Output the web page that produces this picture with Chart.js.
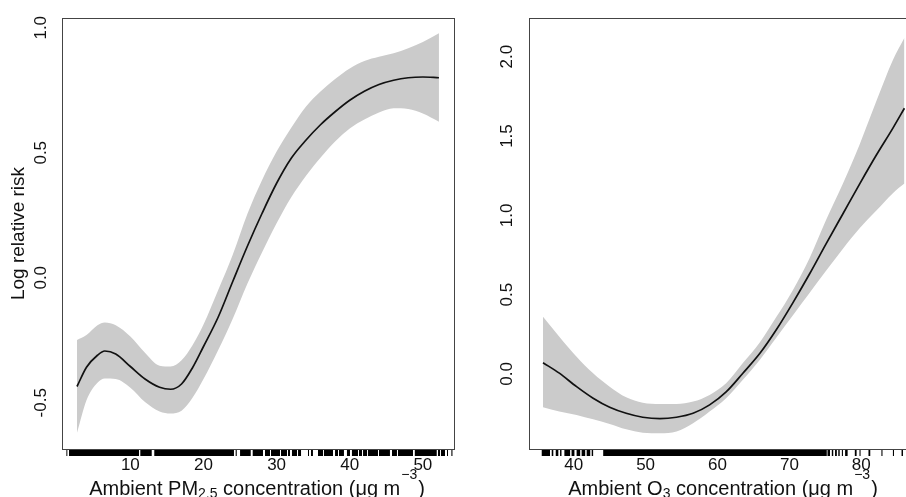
<!DOCTYPE html>
<html>
<head>
<meta charset="utf-8">
<script src="https://cdn.jsdelivr.net/npm/chart.js@4.4.1/dist/chart.umd.min.js"></script>
<style>
  html, body { margin: 0; padding: 0; background: #fff; overflow: hidden; width: 906px; height: 497px; }
  canvas { position: absolute; top: 0; }
  #pmChart { left: 0; }
  #o3Chart { left: 470px; }
</style>
</head>
<body>
<canvas id="pmChart" width="456" height="497"></canvas>
<canvas id="o3Chart" width="450" height="497"></canvas>
<script>
// PM2.5 panel
const pmX     = [2.7, 4, 5.5, 6.5, 8, 10, 12, 14, 15.5, 17, 18.5, 20, 22, 24, 26, 28, 30, 32, 34, 36, 38, 40, 42, 44, 46, 48, 50, 52.2];
const pmFit   = [-0.435, -0.358, -0.31, -0.293, -0.305, -0.355, -0.405, -0.438, -0.446, -0.425, -0.36, -0.275, -0.158, -0.015, 0.126, 0.257, 0.378, 0.478, 0.55, 0.612, 0.664, 0.71, 0.746, 0.773, 0.79, 0.8, 0.803, 0.8];
const pmUpper = [-0.249, -0.229, -0.19, -0.179, -0.19, -0.235, -0.3, -0.352, -0.355, -0.33, -0.27, -0.187, -0.05, 0.092, 0.255, 0.39, 0.505, 0.6, 0.684, 0.745, 0.795, 0.837, 0.867, 0.884, 0.898, 0.918, 0.943, 0.978];
const pmLower = [-0.62, -0.49, -0.42, -0.403, -0.405, -0.44, -0.497, -0.535, -0.543, -0.532, -0.48, -0.405, -0.29, -0.164, -0.024, 0.101, 0.218, 0.322, 0.407, 0.48, 0.545, 0.597, 0.633, 0.661, 0.678, 0.675, 0.657, 0.624];
const pmRug = [[1.25, 1.38], [1.61, 11.18], [11.36, 12.92], [13.27, 24.17], [24.4, 24.55], [25.0, 26.46], [26.73, 28.14],
  [28.41, 29.1], [29.23, 30.46], [30.6, 31.42], [31.56, 31.83], [32.1, 32.79], [32.93, 33.34], [34.29, 34.43], [34.7, 34.97],
  [35.66, 36.35], [36.48, 37.71], [37.99, 38.4], [38.53, 39.21], [39.62, 40.04], [40.3, 41.13], [41.27, 41.68], [41.82, 42.37],
  [42.5, 43.87], [44.0, 45.5], [45.78, 46.46], [46.6, 48.65], [48.9, 51.9], [52.07, 52.35], [52.48, 53.03], [53.3, 53.44], [53.9, 54.05]];
const pmXTicks = [10, 20, 30, 40, 50];
const pmYTicks = [-0.5, 0.0, 0.5, 1.0];

// O3 panel
const o3X     = [35.73, 38, 40.4, 42.7, 45, 47.3, 49.6, 52, 54.3, 56.6, 58.9, 61.2, 63.5, 65.9, 68.2, 70.5, 72.8, 75.1, 77.45, 79.8, 82.1, 84.4, 86.0];
const o3Fit   = [0.071, 0.005, -0.08, -0.153, -0.21, -0.248, -0.273, -0.282, -0.273, -0.248, -0.195, -0.113, 0.003, 0.13, 0.28, 0.45, 0.63, 0.82, 1.01, 1.2, 1.38, 1.55, 1.675];
const o3Upper = [0.361, 0.235, 0.109, 0.004, -0.08, -0.147, -0.181, -0.189, -0.189, -0.174, -0.132, -0.059, 0.067, 0.2, 0.36, 0.53, 0.73, 0.97, 1.2, 1.45, 1.72, 1.98, 2.12];
const o3Lower = [-0.21, -0.237, -0.258, -0.286, -0.315, -0.349, -0.37, -0.374, -0.363, -0.311, -0.237, -0.153, -0.038, 0.09, 0.23, 0.37, 0.51, 0.65, 0.79, 0.92, 1.03, 1.14, 1.2];
const o3Rug = [[35.55, 36.7], [36.94, 37.16], [37.5, 37.86], [38.1, 38.3], [38.7, 39.5], [39.7, 40.1], [40.4, 40.9], [41.1, 41.6],
  [41.8, 42.3], [42.5, 42.7], [44.1, 75.2], [75.3, 75.65], [75.9, 76.1], [76.35, 76.6], [76.8, 77.0], [77.3, 77.45], [77.75, 78.1],
  [78.45, 78.55], [79.1, 79.35], [79.75, 79.9], [81.0, 81.25], [82.8, 82.95], [84.4, 84.55], [85.6, 85.8]];
const o3XTicks = [40, 50, 60, 70, 80];
const o3YTicks = [0.0, 0.5, 1.0, 1.5, 2.0];

const FONT = "'Liberation Sans', Arial, sans-serif";
const INK = '#111';
const BAND = '#cbcbcb';

function toPoints(xs, ys) {
  return xs.map(function (x, i) { return {x: x, y: ys[i]}; });
}

// one flat thick segment per rug range
function rugSets(pairs, y) {
  return pairs.map(function (p) {
    return {
      data: [{x: p[0], y: y}, {x: p[1], y: y}],
      borderColor: '#000', borderWidth: 7, borderCapStyle: 'butt',
      pointRadius: 0, fill: false, clip: false, tension: 0
    };
  });
}

// box, rotated y labels and the titles with sub/superscripts
const panelDecor = {
  id: 'panelDecor',
  afterDraw(chart, args, opts) {
    const ctx = chart.ctx;
    const a = chart.chartArea;
    const ys = chart.scales.y;
    ctx.save();
    ctx.strokeStyle = '#444';
    ctx.lineWidth = 1;
    ctx.strokeRect(Math.round(a.left) + 0.5, Math.round(a.top) + 0.5,
      Math.round(a.right - a.left), Math.round(a.bottom - a.top));

    ctx.fillStyle = INK;
    ctx.font = '17px ' + FONT;
    ctx.textAlign = 'center';
    ctx.textBaseline = 'middle';
    opts.yTicks.forEach(function (v) {
      ctx.save();
      ctx.translate(opts.yLabelX, ys.getPixelForValue(v));
      ctx.rotate(-Math.PI / 2);
      ctx.fillText(v.toFixed(1), 0, 0);
      ctx.restore();
    });

    if (opts.yTitle) {
      ctx.save();
      ctx.font = '19px ' + FONT;
      ctx.translate(opts.yTitleX, (a.top + a.bottom) / 2);
      ctx.rotate(-Math.PI / 2);
      ctx.fillText(opts.yTitle, 0, 0);
      ctx.restore();
    }

    // x title pieces laid out left to right
    ctx.textAlign = 'left';
    ctx.textBaseline = 'alphabetic';
    let total = 0;
    opts.xTitle.forEach(function (p) {
      ctx.font = p.size + 'px ' + FONT;
      p.w = ctx.measureText(p.t).width;
      total += p.w + (p.gap || 0);
    });
    let x = opts.xTitleCenter - total / 2;
    opts.xTitle.forEach(function (p) {
      ctx.font = p.size + 'px ' + FONT;
      x += (p.gap || 0);
      ctx.fillText(p.t, x, opts.xTitleBase + (p.dy || 0));
      x += p.w;
    });
    ctx.restore();
  }
};

function makePanel(id, p) {
  const ctx = document.getElementById(id).getContext('2d');
  const sets = [
    {data: toPoints(p.xs, p.fit), borderColor: INK, borderWidth: 1.7, pointRadius: 0, fill: false, cubicInterpolationMode: 'monotone'},
    {data: toPoints(p.xs, p.lower), borderWidth: 0, pointRadius: 0, fill: false, cubicInterpolationMode: 'monotone'},
    {data: toPoints(p.xs, p.upper), borderWidth: 0, pointRadius: 0, fill: '-1', backgroundColor: BAND, cubicInterpolationMode: 'monotone'}
  ].concat(rugSets(p.rug, p.rugY));

  return new Chart(ctx, {
    type: 'line',
    data: {datasets: sets},
    options: {
      responsive: false,
      animation: false,
      events: [],
      layout: {padding: {left: p.padLeft, right: p.padRight, top: 18, bottom: 0}},
      plugins: {
        legend: {display: false},
        tooltip: {enabled: false},
        panelDecor: {
          yTicks: p.yTicks, yLabelX: p.yLabelX, yTitle: p.yTitle, yTitleX: 19,
          xTitle: p.xTitle, xTitleCenter: p.xTitleCenter, xTitleBase: 495
        }
      },
      scales: {
        x: {
          type: 'linear',
          min: p.xMin, max: p.xMax,
          grid: {display: false, drawTicks: false},
          border: {display: false},
          afterBuildTicks: function (s) { s.ticks = p.xTicks.map(function (v) { return {value: v}; }); },
          afterFit: function (s) { s.height = 48; },
          ticks: {color: INK, font: {size: 17, family: FONT}, padding: 6, maxRotation: 0, autoSkip: false}
        },
        y: {
          display: false,
          min: p.yMin, max: p.yMax
        }
      }
    },
    plugins: [panelDecor]
  });
}

makePanel('pmChart', {
  xs: pmX, fit: pmFit, upper: pmUpper, lower: pmLower, rug: pmRug, rugY: -0.699,
  xMin: 0.65, xMax: 54.26, yMin: -0.685, yMax: 1.039,
  xTicks: pmXTicks, yTicks: pmYTicks, yLabelX: 41, yTitle: 'Log relative risk',
  padLeft: 62, padRight: 2, xTitleCenter: 257,
  xTitle: [
    {t: 'Ambient PM', size: 20},
    {t: '2.5', size: 14, dy: 3},
    {t: ' concentration (\u03bcg m', size: 20},
    {t: '\u22123', size: 14, dy: -16, gap: 1},
    {t: ')', size: 20, gap: 1}
  ]
});

makePanel('o3Chart', {
  xs: o3X, fit: o3Fit, upper: o3Upper, lower: o3Lower, rug: o3Rug, rugY: -0.495,
  xMin: 33.78, xMax: 87.75, yMin: -0.473, yMax: 2.244,
  xTicks: o3XTicks, yTicks: o3YTicks, yLabelX: 37.5, yTitle: null,
  padLeft: 59, padRight: 3, xTitleCenter: 253,
  xTitle: [
    {t: 'Ambient O', size: 20},
    {t: '3', size: 14, dy: 3},
    {t: ' concentration (\u03bcg m', size: 20},
    {t: '\u22123', size: 14, dy: -16, gap: 1},
    {t: ')', size: 20, gap: 1}
  ]
});
</script>
</body>
</html>
